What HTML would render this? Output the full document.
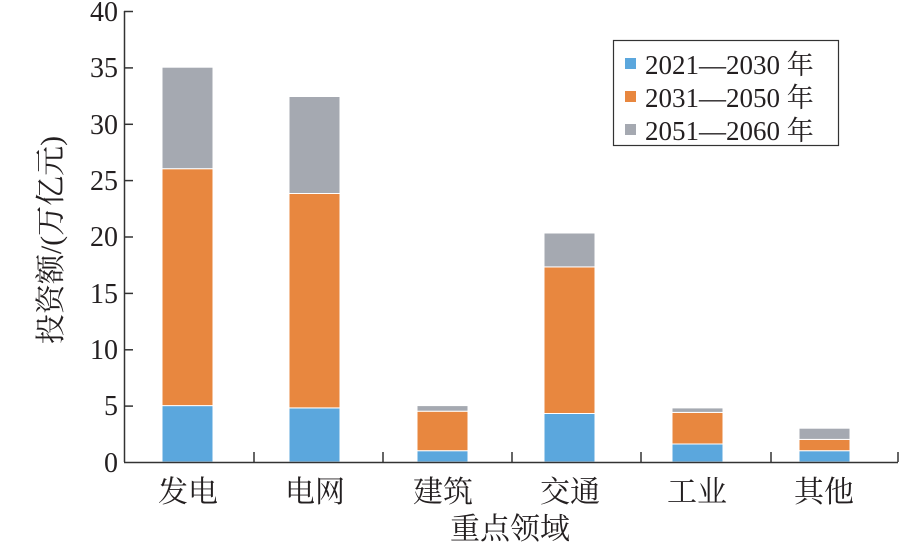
<!DOCTYPE html>
<html><head><meta charset="utf-8"><style>
html,body{margin:0;padding:0;background:#fff;}
svg{display:block;}
text{font-family:"Liberation Serif","Noto Serif CJK SC",serif;fill:#231f20;}
</style></head><body>
<svg width="922" height="544" viewBox="0 0 922 544" xmlns="http://www.w3.org/2000/svg">
<g stroke="#fff" stroke-width="1">
<rect x="162" y="405.6" width="51" height="56.4" fill="#5ba7dd"/>
<rect x="162" y="168.7" width="51" height="236.9" fill="#e8873f"/>
<rect x="162" y="67.2" width="51" height="101.5" fill="#a5a9b1"/>
<rect x="289" y="407.9" width="51" height="54.1" fill="#5ba7dd"/>
<rect x="289" y="193.5" width="51" height="214.4" fill="#e8873f"/>
<rect x="289" y="96.5" width="51" height="97" fill="#a5a9b1"/>
<rect x="417" y="450.7" width="51" height="11.3" fill="#5ba7dd"/>
<rect x="417" y="411.2" width="51" height="39.5" fill="#e8873f"/>
<rect x="417" y="405.6" width="51" height="5.6" fill="#a5a9b1"/>
<rect x="544" y="413.5" width="51" height="48.5" fill="#5ba7dd"/>
<rect x="544" y="266.9" width="51" height="146.6" fill="#e8873f"/>
<rect x="544" y="233" width="51" height="33.9" fill="#a5a9b1"/>
<rect x="672" y="444" width="51" height="18" fill="#5ba7dd"/>
<rect x="672" y="412.4" width="51" height="31.6" fill="#e8873f"/>
<rect x="672" y="407.9" width="51" height="4.5" fill="#a5a9b1"/>
<rect x="799" y="450.7" width="51" height="11.3" fill="#5ba7dd"/>
<rect x="799" y="439.4" width="51" height="11.3" fill="#e8873f"/>
<rect x="799" y="428.2" width="51" height="11.2" fill="#a5a9b1"/>
</g>
<line x1="124.5" y1="11" x2="124.5" y2="462" stroke="#333" stroke-width="1.5"/>
<line x1="124" y1="462.5" x2="898" y2="462.5" stroke="#333" stroke-width="1.5"/>
<g stroke="#333" stroke-width="1.5">
<line x1="124" y1="11.5" x2="133" y2="11.5"/>
<line x1="124" y1="67.9" x2="133" y2="67.9"/>
<line x1="124" y1="124.3" x2="133" y2="124.3"/>
<line x1="124" y1="180.6" x2="133" y2="180.6"/>
<line x1="124" y1="237" x2="133" y2="237"/>
<line x1="124" y1="293.4" x2="133" y2="293.4"/>
<line x1="124" y1="349.8" x2="133" y2="349.8"/>
<line x1="124" y1="406.1" x2="133" y2="406.1"/>
<line x1="254" y1="462" x2="254" y2="452"/>
<line x1="383" y1="462" x2="383" y2="452"/>
<line x1="512" y1="462" x2="512" y2="452"/>
<line x1="641" y1="462" x2="641" y2="452"/>
<line x1="771" y1="462" x2="771" y2="452"/>
<line x1="898" y1="462" x2="898" y2="452"/>
</g>
<g font-size="28" text-anchor="end">
<text x="118" y="21">40</text>
<text x="118" y="77">35</text>
<text x="118" y="134">30</text>
<text x="118" y="190">25</text>
<text x="118" y="246">20</text>
<text x="118" y="303">15</text>
<text x="118" y="359">10</text>
<text x="118" y="415">5</text>
<text x="118" y="472">0</text>
</g>
<g font-size="30" text-anchor="middle">
<text x="188" y="502">发电</text>
<text x="315" y="502">电网</text>
<text x="443" y="502">建筑</text>
<text x="570" y="502">交通</text>
<text x="697" y="502">工业</text>
<text x="824" y="502">其他</text>
<text x="510" y="539">重点领域</text>
</g>
<text font-size="30" text-anchor="middle" transform="translate(61,240) rotate(-90)">投资额/(万亿元)</text>
<rect x="613.5" y="40.5" width="225" height="105" fill="#fff" stroke="#333" stroke-width="1.2"/>
<rect x="625" y="58" width="11" height="11" fill="#5ba7dd"/>
<rect x="625" y="91" width="11" height="11" fill="#e8873f"/>
<rect x="625" y="124" width="11" height="11" fill="#a5a9b1"/>
<g font-size="27">
<text x="645" y="74">2021—2030 年</text>
<text x="645" y="107">2031—2050 年</text>
<text x="645" y="140">2051—2060 年</text>
</g>
</svg>
</body></html>
